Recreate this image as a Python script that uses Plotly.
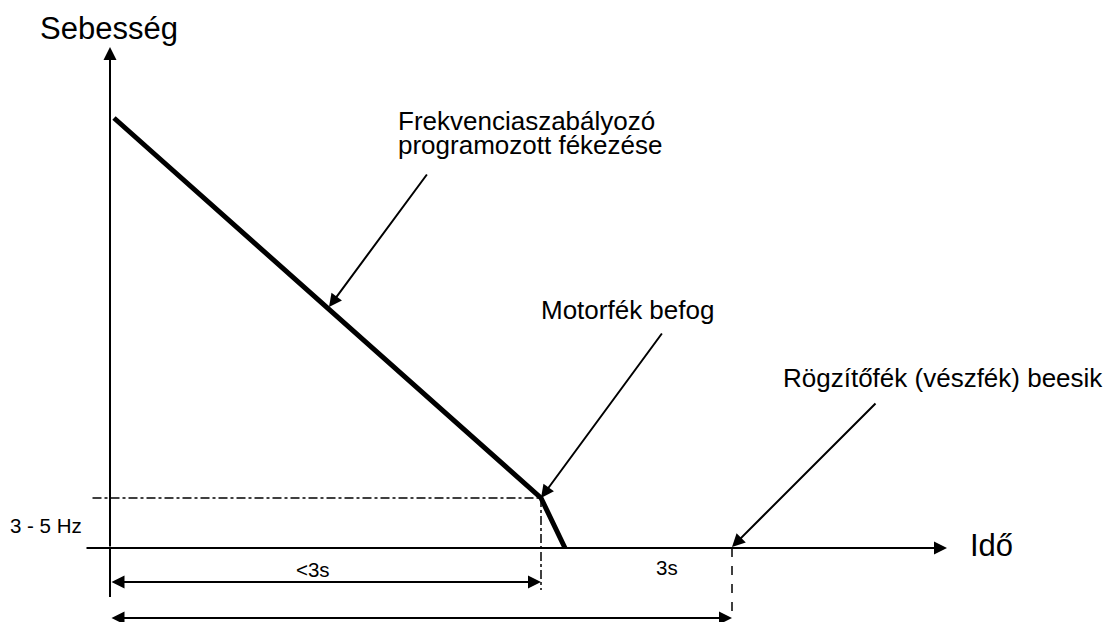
import plotly.graph_objects as go

# --- data (schematic units: time / speed) ---
time_curve = [0.08, 8.62, 9.1]
speed_curve = [8.6, 1.0, 0.0]
t_motor = 8.62          # motor brake engages
t_brake = 12.44         # holding brake drops in
v_threshold = 1.0       # 3 - 5 Hz
label_speed = "Sebesség"
label_time = "Idő"
label_threshold = "3 - 5 Hz"
label_lt3 = "<3s"
label_3s = "3s"
note_freq = ["Frekvenciaszabályozó", "programozott fékezése"]
note_motor = "Motorfék befog"
note_hold = "Rögzítőfék (vészfék) beesik"

FONT = "Liberation Sans, Arial, sans-serif"
BLACK = "#000000"

fig = go.Figure()

# speed curve
fig.add_trace(go.Scatter(x=time_curve, y=speed_curve, mode="lines",
                         line=dict(color=BLACK, width=5), hoverinfo="skip"))
# threshold dash-dot line
fig.add_trace(go.Scatter(x=[-0.35, t_motor], y=[v_threshold, v_threshold], mode="lines",
                         line=dict(color=BLACK, width=1.5, dash="dashdot"), hoverinfo="skip"))
# vertical markers
fig.add_trace(go.Scatter(x=[t_motor, t_motor], y=[v_threshold, -0.84], mode="lines",
                         line=dict(color=BLACK, width=1.5, dash="dashdot"), hoverinfo="skip"))
fig.add_trace(go.Scatter(x=[t_brake, t_brake], y=[0, -1.4], mode="lines",
                         line=dict(color=BLACK, width=1.5, dash="dash"), hoverinfo="skip"))
# y axis lower stub
fig.add_trace(go.Scatter(x=[0, 0], y=[0, -0.98], mode="lines",
                         line=dict(color=BLACK, width=2), hoverinfo="skip"))

anns = []

def arrow(x, y, ax, ay, side="end", width=2, size=1.3):
    anns.append(dict(x=x, y=y, ax=ax, ay=ay, xref="x", yref="y", axref="x", ayref="y",
                     text="", showarrow=True, arrowhead=2, arrowsize=size, arrowwidth=width,
                     arrowcolor=BLACK, arrowside=side, standoff=0, startstandoff=0))

# axes
arrow(0, 10.02, 0, 0)
arrow(16.74, 0, -0.5, 0)
# interval arrows
arrow(t_motor, -0.68, 0, -0.68, side="end+start")
arrow(t_brake, -1.4, 0, -1.4, side="end+start")
# callouts
arrow(4.38, 4.82, 6.36, 7.5)
arrow(t_motor, v_threshold, 11.06, 4.32)
arrow(t_brake, 0.02, 15.34, 2.92)

def text(x, y, s, size=26, xanchor="left"):
    anns.append(dict(x=x, y=y, xref="x", yref="y", text=s, showarrow=False,
                     xanchor=xanchor, yanchor="middle",
                     font=dict(family=FONT, size=size, color=BLACK)))

text(-0.02, 10.4, label_speed, size=31, xanchor="center")
text(17.16, 0.06, label_time, size=31)
text(-1.28, 0.46, label_threshold, size=20.5, xanchor="center")
text(4.06, -0.42, label_lt3, size=20.5, xanchor="center")
text(11.14, -0.38, label_3s, size=20.5, xanchor="center")
text(5.72, 8.54, note_freq[0])
text(5.72, 8.06, note_freq[1])
text(8.58, 4.76, note_motor)
text(13.42, 3.4, note_hold)

fig.update_layout(
    width=1110, height=622,
    margin=dict(l=0, r=0, t=0, b=0),
    paper_bgcolor="white", plot_bgcolor="white",
    showlegend=False,
    annotations=anns,
    xaxis=dict(range=[-2.2, 20.0], visible=False, fixedrange=True),
    yaxis=dict(range=[-1.48, 10.96], visible=False, fixedrange=True),
)

fig.write_html("out.html", config={"displayModeBar": False},
               post_script="document.body.style.margin='0';document.body.style.overflow='hidden';")
